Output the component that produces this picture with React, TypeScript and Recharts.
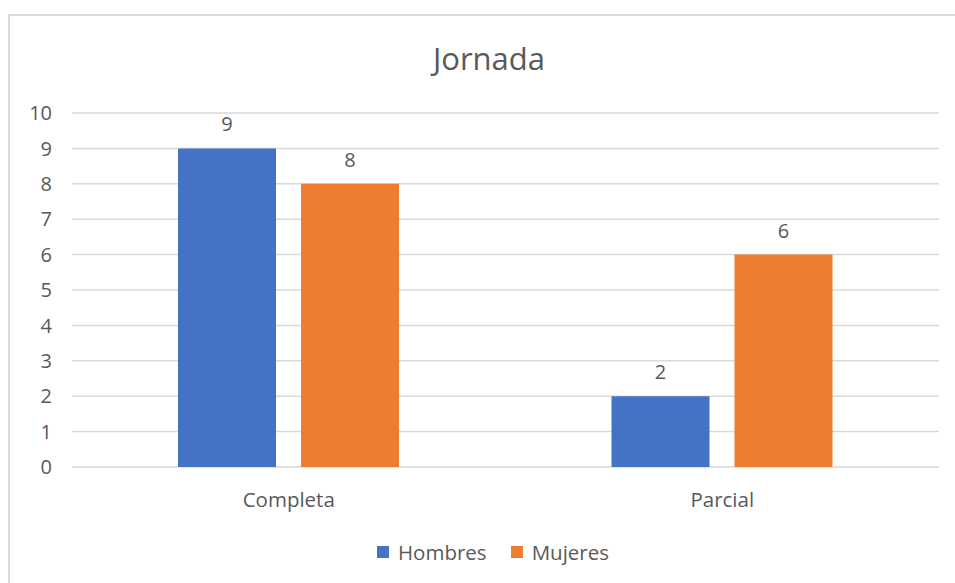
import { BarChart, Bar, XAxis, YAxis, CartesianGrid, Legend, LabelList } from "recharts";

const categories = ["Completa", "Parcial"];
const hombres = [9, 2];
const mujeres = [8, 6];
const yTicks = [0, 1, 2, 3, 4, 5, 6, 7, 8, 9, 10];

const series = [
  { key: "Hombres", color: "#4472C4", values: hombres },
  { key: "Mujeres", color: "#ED7D31", values: mujeres },
];

const data = categories.map((name, i) => ({
  name,
  Hombres: hombres[i],
  Mujeres: mujeres[i],
}));

const TEXT = "#595959";
const GRID = "#D9D9D9";
const FONT = '"Open Sans", "Noto Sans", sans-serif';

function LegendContent() {
  return (
    <div style={{ display: "flex", justifyContent: "center", alignItems: "center", gap: 24 }}>
      {series.map((s) => (
        <div key={s.key} style={{ display: "flex", alignItems: "center", gap: 9 }}>
          <span style={{ width: 12, height: 12, background: s.color, display: "inline-block" }} />
          <span style={{ color: TEXT, fontSize: 20.5, fontFamily: FONT, lineHeight: "26px" }}>{s.key}</span>
        </div>
      ))}
    </div>
  );
}

export default function App() {
  return (
    <div style={{ position: "fixed", left: 8, top: 14, width: 947, height: 569, overflow: "hidden", background: "#fff" }}>
      <div
        style={{
          position: "absolute",
          left: 0,
          top: 0,
          width: 962,
          height: 580,
          border: `2px solid ${GRID}`,
          boxSizing: "border-box",
        }}
      />
      <div
        style={{
          position: "absolute",
          left: 0,
          top: 24,
          width: 962,
          textAlign: "center",
          fontFamily: FONT,
          fontSize: 31,
          color: TEXT,
          lineHeight: "40px",
        }}
      >
        Jornada
      </div>
      <BarChart
        width={947}
        height={569}
        data={data}
        margin={{ top: 99, right: 16, left: 0, bottom: 18 }}
        barSize={98}
        barGap={25}
        style={{ position: "absolute", left: 0, top: 0, fontFamily: FONT }}
      >
        <CartesianGrid vertical={false} stroke={GRID} strokeWidth={1.5} />
        <XAxis
          dataKey="name"
          height={72}
          axisLine={false}
          tickLine={false}
          tickMargin={19}
          tick={{ fill: TEXT, fontSize: 20.5 }}
        />
        <YAxis
          width={64}
          domain={[0, 10]}
          ticks={yTicks}
          interval={0}
          axisLine={false}
          tickLine={false}
          tickMargin={14}
          tick={{ fill: TEXT, fontSize: 20 }}
        />
        <Legend
          verticalAlign="bottom"
          height={26}
          wrapperStyle={{ left: 4, width: 962 }}
          content={<LegendContent />}
        />
        {series.map((s) => (
          <Bar key={s.key} dataKey={s.key} fill={s.color} isAnimationActive={false}>
            <LabelList dataKey={s.key} position="top" offset={17} fill={TEXT} fontSize={20} />
          </Bar>
        ))}
      </BarChart>
    </div>
  );
}
